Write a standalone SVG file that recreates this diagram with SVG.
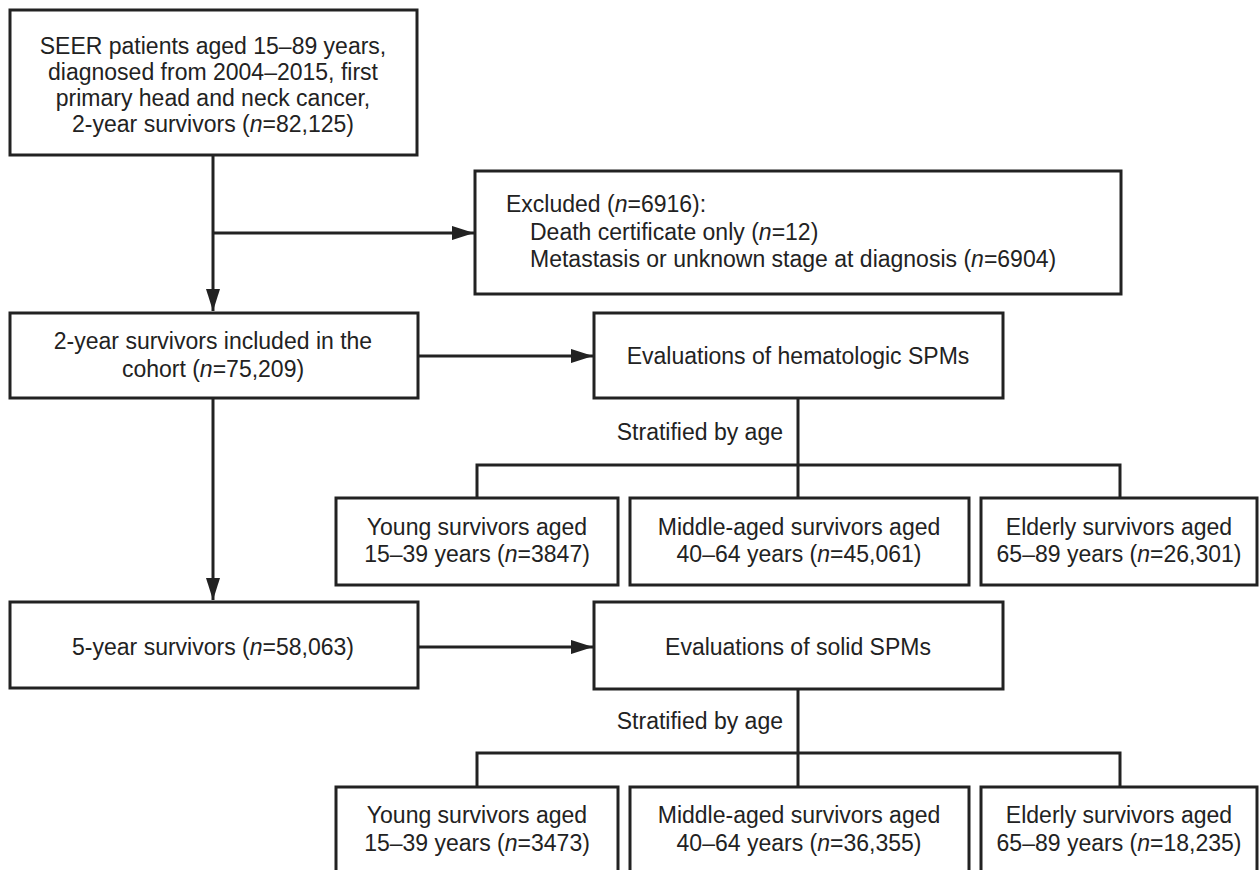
<svg xmlns="http://www.w3.org/2000/svg" width="1260" height="870" viewBox="0 0 1260 870">
<style>
.box{fill:#fff;stroke:#222;stroke-width:3}
.ln{fill:none;stroke:#222;stroke-width:3}
text{font-family:"Liberation Sans",Arial,sans-serif;font-size:23px;fill:#222}
.c{text-anchor:middle}
.i{font-style:italic}
</style>
<defs>
<marker id="ah" viewBox="0 0 10 10" refX="10" refY="5" markerWidth="7.5" markerHeight="4.8" markerUnits="strokeWidth" orient="auto" preserveAspectRatio="none">
<path d="M0,0 L10,5 L0,10 Z" fill="#222"/>
</marker>
</defs>
<rect width="1260" height="870" fill="#fff"/>
<g id="connectors">
<line class="ln" x1="213" y1="155" x2="213" y2="311" marker-end="url(#ah)"/>
<line class="ln" x1="213" y1="233" x2="474" y2="233" marker-end="url(#ah)"/>
<line class="ln" x1="213" y1="398" x2="213" y2="600" marker-end="url(#ah)"/>
<line class="ln" x1="418" y1="356" x2="593" y2="356" marker-end="url(#ah)"/>
<line class="ln" x1="418" y1="647" x2="593" y2="647" marker-end="url(#ah)"/>
<path class="ln" d="M798,398 V465 M477,498 V465 H1120 V498 M798,465 V498"/>
<path class="ln" d="M798,689 V753 M477,787 V753 H1120 V787 M798,753 V787"/>
</g>
<g id="n_seer">
<rect class="box" x="10" y="10" width="407" height="145"/>
<text class="c" x="213" y="54">SEER patients aged 15–89 years,</text>
<text class="c" x="213" y="80">diagnosed from 2004–2015, first</text>
<text class="c" x="213" y="106">primary head and neck cancer,</text>
<text class="c" x="213" y="132">2-year survivors (<tspan class="i">n</tspan>=82,125)</text>
</g>
<g id="n_excluded">
<rect class="box" x="475" y="171" width="646" height="123"/>
<text x="506" y="212">Excluded (<tspan class="i">n</tspan>=6916):</text>
<text x="530" y="240">Death certificate only (<tspan class="i">n</tspan>=12)</text>
<text x="530" y="267">Metastasis or unknown stage at diagnosis (<tspan class="i">n</tspan>=6904)</text>
</g>
<g id="n_cohort">
<rect class="box" x="10" y="313" width="408" height="85"/>
<text class="c" x="213" y="349">2-year survivors included in the</text>
<text class="c" x="213" y="377">cohort (<tspan class="i">n</tspan>=75,209)</text>
</g>
<g id="n_hemat">
<rect class="box" x="594" y="313" width="409" height="85"/>
<text class="c" x="798" y="364">Evaluations of hematologic SPMs</text>
</g>
<text id="lbl_strat1" x="783" y="440" style="text-anchor:end">Stratified by age</text>
<g id="n_h_young">
<rect class="box" x="336" y="498" width="282" height="87"/>
<text class="c" x="477" y="535">Young survivors aged</text>
<text class="c" x="477" y="562">15–39 years (<tspan class="i">n</tspan>=3847)</text>
</g>
<g id="n_h_middle">
<rect class="box" x="630" y="498" width="339" height="87"/>
<text class="c" x="799" y="535">Middle-aged survivors aged</text>
<text class="c" x="799" y="562">40–64 years (<tspan class="i">n</tspan>=45,061)</text>
</g>
<g id="n_h_elderly">
<rect class="box" x="981" y="498" width="276" height="87"/>
<text class="c" x="1119" y="535">Elderly survivors aged</text>
<text class="c" x="1119" y="562">65–89 years (<tspan class="i">n</tspan>=26,301)</text>
</g>
<g id="n_five">
<rect class="box" x="10" y="602" width="408" height="86"/>
<text class="c" x="213" y="655">5-year survivors (<tspan class="i">n</tspan>=58,063)</text>
</g>
<g id="n_solid">
<rect class="box" x="594" y="602" width="409" height="87"/>
<text class="c" x="798" y="655">Evaluations of solid SPMs</text>
</g>
<text id="lbl_strat2" x="783" y="729" style="text-anchor:end">Stratified by age</text>
<g id="n_s_young">
<rect class="box" x="336" y="787" width="282" height="90"/>
<text class="c" x="477" y="823">Young survivors aged</text>
<text class="c" x="477" y="851">15–39 years (<tspan class="i">n</tspan>=3473)</text>
</g>
<g id="n_s_middle">
<rect class="box" x="630" y="787" width="339" height="90"/>
<text class="c" x="799" y="823">Middle-aged survivors aged</text>
<text class="c" x="799" y="851">40–64 years (<tspan class="i">n</tspan>=36,355)</text>
</g>
<g id="n_s_elderly">
<rect class="box" x="981" y="787" width="276" height="90"/>
<text class="c" x="1119" y="823">Elderly survivors aged</text>
<text class="c" x="1119" y="851">65–89 years (<tspan class="i">n</tspan>=18,235)</text>
</g>
</svg>
